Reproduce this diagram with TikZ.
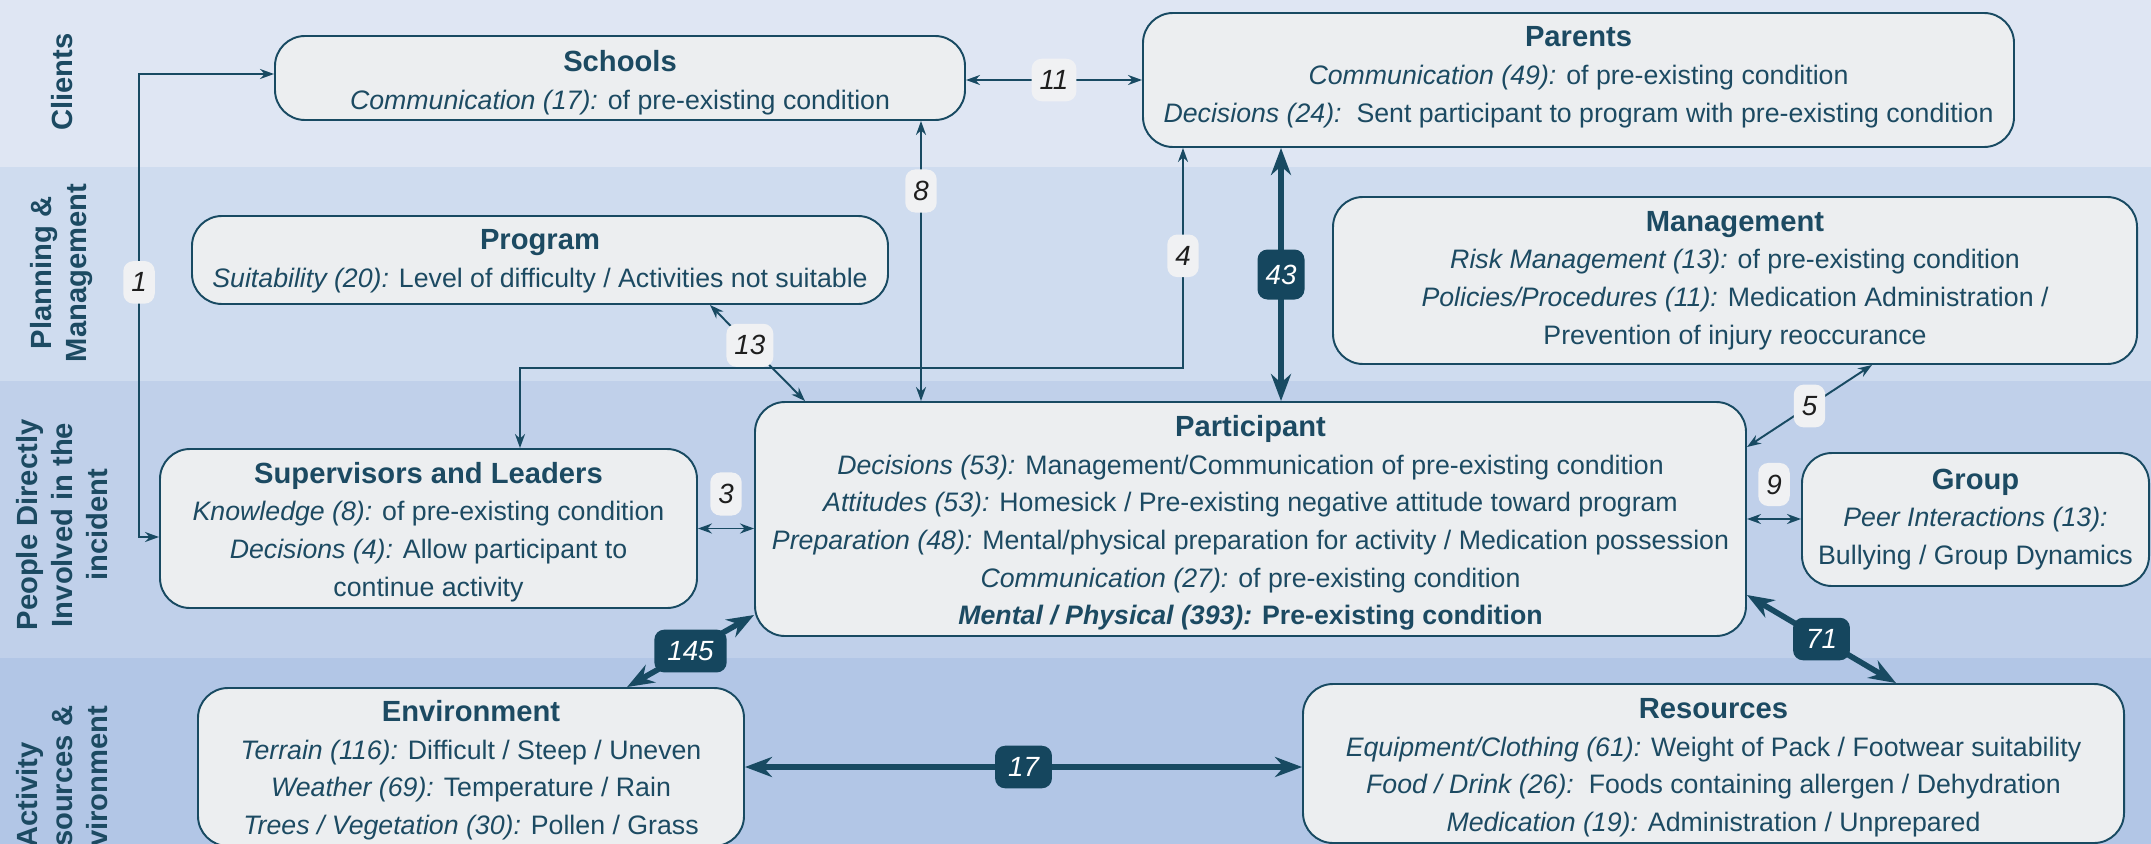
\documentclass[tikz,border=0pt]{standalone}
\usepackage{fontspec}
\setmainfont{Liberation Sans}
\usepackage{tikz}
\usetikzlibrary{arrows.meta}
\definecolor{bandA}{HTML}{DFE6F3}
\definecolor{bandB}{HTML}{CFDCEF}
\definecolor{bandC}{HTML}{C0D0EA}
\definecolor{bandD}{HTML}{B2C6E6}
\definecolor{boxfill}{HTML}{ECEEF0}
\definecolor{ink}{HTML}{1C4A62}
\definecolor{edge}{HTML}{184A62}
\definecolor{darkfill}{HTML}{15465E}
\definecolor{lblfill}{HTML}{F0F1F3}
\definecolor{digit}{HTML}{1E1E1E}
\tikzset{
  area/.style={rectangle,rounded corners=0.3cm,draw=edge,line width=0.55pt,fill=boxfill,
    text=ink,align=center,inner sep=0pt,font=\fontsize{7.6}{10.7}\selectfont},
  lane/.style={rotate=90,align=center,text=ink,font=\bfseries\fontsize{8.3}{9.96}\selectfont},
  link/.style={draw=edge,line width=0.55pt,
    arrows={Stealth[length=1.4mm,width=1mm]-Stealth[length=1.4mm,width=1mm]}},
  biglink/.style={draw=edge,line width=1.6pt,
    arrows={Stealth[length=2.7mm,width=2mm]-Stealth[length=2.7mm,width=2mm]}},
  lbl/.style={fill=lblfill,rounded corners=0.1cm,inner xsep=0.08cm,minimum height=0.36cm,
    text=digit,font=\itshape\fontsize{7.9}{9}\selectfont},
  darklbl/.style={fill=darkfill,rounded corners=0.1cm,inner xsep=0.13cm,minimum height=0.35cm,
    text=white,font=\itshape\fontsize{7.9}{9}\selectfont}
}
\newcommand{\areanode}{\node[area]}
\newcommand{\lanenode}{\node[lane]}
% title line, optional extra height on top
\newcommand{\boxtitle}[2][0pt]{{\bfseries\fontsize{8.3}{10.7}\selectfont
  \setbox0\hbox{#2}\rule{0pt}{\dimexpr\ht0+#1\relax}#2}}
\newcommand{\fctr}[1]{\textit{#1}}

\begin{document}
\begin{tikzpicture}
      \useasboundingbox (0,0) rectangle (21.51,-8.43);
      \clip (0,0) rectangle (21.51,-8.43);
      %%%% lanes
      \fill[bandA] (0,0) rectangle (21.51,-1.67);
      \fill[bandB] (0,-1.67) rectangle (21.51,-3.81);
      \fill[bandC] (0,-3.81) rectangle (21.51,-6.575);
      \fill[bandD] (0,-6.575) rectangle (21.51,-9.4);
      \lanenode (clients) at (0.62,-0.82) {Clients};
      \lanenode (planning) at (0.62,-2.73) {Planning \&\\Management};
      \lanenode (people) at (0.62,-5.25) {People Directly\\Involved in the\\incident};
      \lanenode (activity) at (0.62,-7.95) {Activity\\Resources \&\\Environment};
      %%%% boxes
      \areanode[minimum width=6.9cm,minimum height=0.84cm] (school) at (6.20,-0.78)
        {\boxtitle[2.7pt]{Schools}\\\fctr{Communication (17):} of pre-existing condition};
      \areanode[minimum width=8.71cm,minimum height=1.34cm] (parent) at (15.785,-0.80)
        {\boxtitle{Parents}\\\fctr{Communication (49):} of pre-existing condition\\
         \fctr{Decisions (24):}\ \ Sent participant to program with pre-existing condition\rule[-3.1pt]{0pt}{1pt}};
      \areanode[minimum width=6.96cm,minimum height=0.88cm] (prog) at (5.40,-2.60)
        {\boxtitle[0.8pt]{Program}\\\fctr{Suitability (20):} Level of difficulty / Activities not suitable};
      \areanode[minimum width=8.04cm,minimum height=1.67cm] (mgmt) at (17.35,-2.805)
        {\boxtitle{Management}\\\fctr{Risk Management (13):} of pre-existing condition\\
         \fctr{Policies/Procedures (11):} Medication Administration /\\
         Prevention of injury reoccurance};
      \areanode[minimum width=5.37cm,minimum height=1.59cm] (sup) at (4.285,-5.285)
        {\boxtitle[1.9pt]{Supervisors and Leaders}\\\fctr{Knowledge (8):} of pre-existing condition\\
         \fctr{Decisions (4):} Allow participant to\\continue activity};
      \areanode[minimum width=9.91cm,minimum height=2.34cm] (part) at (12.505,-5.19)
        {\boxtitle[2.3pt]{Participant}\\
         \fctr{Decisions (53):} Management/Communication of pre-existing condition\\
         \fctr{Attitudes (53):} Homesick / Pre-existing negative attitude toward program\\
         \fctr{Preparation (48):} Mental/physical preparation for activity / Medication possession\\
         \fctr{Communication (27):} of pre-existing condition\\
         \textbf{\textit{Mental / Physical (393):} Pre-existing condition}};
      \areanode[minimum width=3.47cm,minimum height=1.33cm] (group) at (19.755,-5.195)
        {\boxtitle{Group}\\\fctr{Peer Interactions (13):}\\Bullying / Group Dynamics};
      \areanode[minimum width=5.46cm,minimum height=1.58cm] (env) at (4.71,-7.67)
        {\boxtitle[1.9pt]{Environment}\\\fctr{Terrain (116):} Difficult / Steep / Uneven\\
         \fctr{Weather (69):} Temperature / Rain\\
         \fctr{Trees / Vegetation (30):} Pollen / Grass};
      \areanode[minimum width=8.21cm,minimum height=1.59cm] (res) at (17.135,-7.635)
        {\boxtitle[2.3pt]{Resources}\\\fctr{Equipment/Clothing (61):} Weight of Pack / Footwear suitability\\
         \fctr{Food / Drink (26):}\ \ Foods containing allergen / Dehydration\\
         \fctr{Medication (19):} Administration / Unprepared};
      %%%% links
      \draw[link] ([yshift=-0.085cm]sup.west) -- ++(-0.2,0) |- node[lbl,pos=0.275] (n1) {1} ([yshift=0.04cm]school.west);
      \draw[link] (school.east |- parent.west) -- node[lbl] (n11) {11} (parent.west);
      \draw[link] ([xshift=3.01cm]school.south) -- node[lbl,pos=0.25] (n8) {8} ([xshift=-3.295cm]part.north);
      \draw[link] ([xshift=0.915cm]sup.north) -- ++(0,0.8) -| node[lbl,pos=0.755] (n4) {4} ([xshift=-3.955cm]parent.south);
      \draw[link] ([xshift=1.7cm]prog.south) -- node[lbl,pos=0.42] (n13) {13} ([xshift=-4.455cm]part.north);
      \draw[link] ([yshift=0.72cm]part.east) -- node[lbl] (n5) {5} ([xshift=1.37cm]mgmt.south);
      \draw[link] (sup.east) -- node[lbl,above=0.12cm] (n3) {3} (sup.east -| part.west);
      \draw[link] (part.east) -- node[lbl,above=0.12cm] (n9) {9} (part.east -| group.west);
      %%%% heavy links
      \draw[biglink] ([xshift=-2.975cm]parent.south) -- node[darklbl,inner xsep=0.08cm,minimum width=0.47cm,minimum height=0.5cm] (n43) {43} ([xshift=0.305cm]part.north);
      \draw[biglink] ([xshift=1.56cm]env.north) -- node[darklbl] (n145) {145} ([yshift=-0.96cm]part.west);
      \draw[biglink] ([yshift=-0.76cm]part.east) -- node[darklbl] (n71) {71} ([xshift=1.825cm]res.north);
      \draw[biglink] (env.east) -- node[darklbl] (n17) {17} (env.east -| res.west);
\end{tikzpicture}
\end{document}
